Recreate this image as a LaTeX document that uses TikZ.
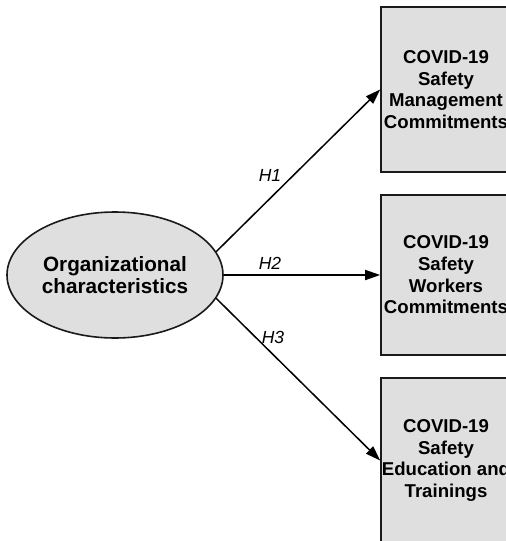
\documentclass[tikz,border=0pt]{standalone}
\usepackage{fontspec}
\setmainfont{Liberation Sans}
\usetikzlibrary{shapes.geometric,arrows.meta}

\definecolor{fillgray}{HTML}{DFDFDF}
\definecolor{edgegray}{HTML}{1A1A1A}

\begin{document}
\begin{tikzpicture}[
    x=1pt, y=-1pt,
    construct/.style={draw=edgegray, line width=1.6pt, fill=fillgray, ellipse, inner sep=0pt,
        minimum width=216pt, minimum height=126pt, align=center,
        font=\fontsize{20.7}{21.7}\selectfont\bfseries},
    outcome/.style={draw=edgegray, line width=1.6pt, fill=fillgray, rectangle, inner sep=0pt,
        minimum width=130pt, align=center,
        font=\fontsize{18.6}{21.7}\selectfont\bfseries},
    hyp/.style={font=\fontsize{17.5}{20}\selectfont\itshape, inner sep=0pt},
    path/.style={line width=1.5pt, -{Triangle[length=15pt,width=10pt]}}
]
    % Page area
    \useasboundingbox (0,0) rectangle (506,541);
    \clip (0,0) rectangle (506,541);

    % Predictor
    \node[construct] (org) at (115,275) {Organizational\\characteristics};

    % Outcome boxes
    \node[outcome, minimum height=165pt] (mgmt) at (446,89.5) {COVID-19\\Safety\\Management\\Commitments};
    \node[outcome, minimum height=160pt] (work) at (446,275) {COVID-19\\Safety\\Workers\\Commitments};
    \node[outcome, minimum height=165pt] (edu) at (446,460.5) {COVID-19\\Safety\\Education and\\Trainings};

    % Hypothesised paths
    \draw[path] (org.13) -- (mgmt.west);
    \draw[path] (org.east) -- (work.west);
    \draw[path] (org.-13) -- (edu.west);

    % Path labels
    \node[hyp] (h1) at (270,175) {H1};
    \node[hyp] (h2) at (270,263) {H2};
    \node[hyp] (h3) at (273,337) {H3};
\end{tikzpicture}
\end{document}
